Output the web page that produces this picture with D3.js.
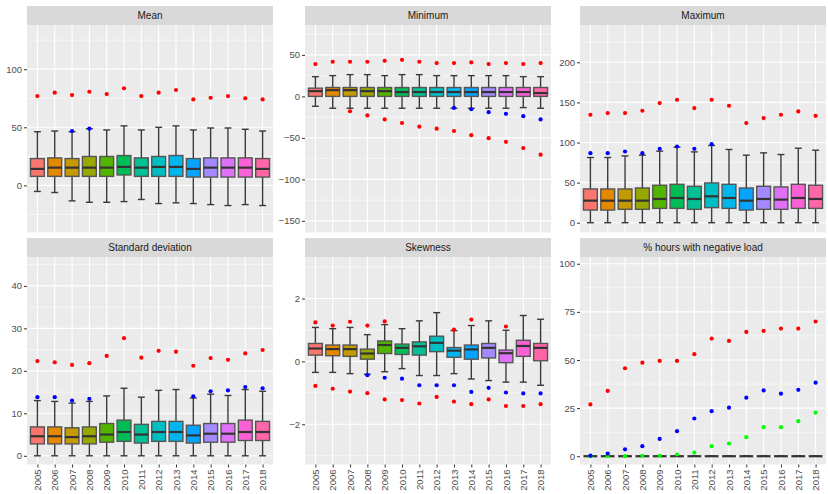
<!DOCTYPE html>
<html>
<head>
<meta charset="utf-8">
<script src="https://cdn.jsdelivr.net/npm/d3@7"></script>
<style>
  html, body { margin: 0; padding: 0; background: #ffffff; }
  svg { display: block; }
  text { font-family: "Liberation Sans", Arial, sans-serif; }
</style>
</head>
<body>
<svg id="chart" width="828" height="494"></svg>
<script>
// ---------------- DATA ----------------
const years = ["2005","2006","2007","2008","2009","2010","2011","2012","2013","2014","2015","2016","2017","2018"];
const boxColors = ["#F8766D","#E38900","#C49A00","#99A800","#53B400","#00BC56","#00C094","#00BFC4","#00B6EB","#06A4FF","#A58AFF","#DF70F8","#FB61D7","#FF66A8"];
const panelTitles = ["Mean","Minimum","Maximum","Standard deviation","Skewness","% hours with negative load"];

// Mean
const meanLo  = [-5.2,-6.1,-13.3,-14.5,-14.5,-13.9,-12.1,-15.6,-15.0,-15.6,-16.5,-17.3,-16.5,-17.3];
const meanQ1  = [7.8,7.8,7.8,7.8,7.8,9.0,7.8,7.8,7.8,7.2,7.2,7.2,7.2,7.2];
const meanMed = [14.2,15.3,15.3,15.3,15.3,15.9,15.3,15.9,15.9,14.2,15.3,15.3,15.3,14.2];
const meanQ3  = [23.1,23.7,23.1,24.9,24.9,25.7,23.7,24.9,25.7,23.1,23.7,23.7,23.7,23.1];
const meanHi  = [46.2,46.8,46.2,48.8,47.7,51.2,47.7,50.0,51.2,47.7,49.4,49.4,48.3,46.8];
const meanRed = [76.9,79.8,77.7,80.6,78.6,83.5,76.9,79.8,82.1,74.0,75.4,76.9,74.9,74.0];
const meanBlue = [null,null,46.8,48.8,null,null,null,null,null,null,null,null,null,null];

// Minimum
const minLo  = [-11.9,-14.3,-14.3,-14.3,-14.3,-14.3,-14.3,-14.3,-14.3,-14.3,-14.3,-14.3,-13.5,-14.3];
const minQ1  = [0,0,0,0,0,0,0,0,0,0,0,0,0,0];
const minMed = [6.3,7.5,7.5,6.3,6.3,5.2,5.2,5.2,5.2,5.2,5.2,5.2,5.2,4.0];
const minQ3  = [9.9,10.7,10.7,10.7,10.7,10.7,10.7,10.7,10.7,10.7,10.7,10.7,10.7,10.7];
const minHi  = [23.8,25.0,26.2,26.2,25.0,26.2,26.2,25.0,25.0,25.0,25.0,25.0,23.8,23.8];
const minRedHi = [38.9,41.7,41.7,41.7,42.9,44.0,41.7,40.1,40.1,40.9,38.9,40.1,38.9,40.1];
const minRedLo = [null,null,-17.9,-23.0,-27.8,-32.1,-36.5,-38.9,-41.7,-46.8,-50.4,-54.8,-62.3,-70.2];
const minBlue  = [null,null,null,null,null,null,null,null,-13.9,-15.5,-19.0,-21.0,-23.8,-27.8];

// Maximum
const maxLo  = [0,0,0,0,0,0,0,0,0,0,0,0,0,0];
const maxQ1  = [15.8,15.8,16.7,16.7,17.9,17.9,16.7,18.8,17.9,15.8,16.7,16.7,17.9,17.9];
const maxMed = [27.5,27.5,27.5,27.5,29.6,30.8,29.6,32.9,30.8,27.5,29.6,28.8,30.8,29.6];
const maxQ3  = [42.1,42.1,42.1,43.3,46.7,47.9,45.4,49.6,47.9,43.3,45.4,44.6,47.9,46.7];
const maxHi  = [81.3,81.3,83.3,84.2,89.2,94.2,88.3,96.3,91.3,84.2,87.1,85.0,92.9,90.4];
const maxRed = [134.6,136.7,136.7,139.6,149.2,153.3,142.9,153.3,145.8,124.2,130.4,134.6,138.8,133.3];
const maxBlue = [86.7,86.7,88.8,86.7,92.1,95.0,92.1,97.9,null,null,null,null,null,null];

// Standard deviation
const sdLo  = [0,0,0,0,0,0,0,0,0,0,0,0,0,0];
const sdQ1  = [2.8,2.8,2.8,2.8,3.2,3.4,3.0,3.4,3.4,3.0,3.2,3.2,3.6,3.6];
const sdMed = [4.6,4.6,4.4,4.6,5.0,5.6,5.0,5.6,5.6,4.8,5.2,5.2,5.6,5.6];
const sdQ3  = [6.8,6.8,6.6,6.8,7.6,8.4,7.4,8.1,8.1,7.2,7.6,7.6,8.4,8.1];
const sdHi  = [13.0,12.8,12.4,12.8,14.1,15.9,13.8,15.4,15.6,13.6,14.5,14.2,15.6,15.2];
const sdRed = [22.3,22.0,21.4,21.8,23.5,27.7,23.1,24.7,24.5,21.2,23.0,22.6,24.1,24.9];
const sdBlue = [13.8,13.8,13.0,13.4,null,null,null,null,null,14.0,15.2,15.4,16.2,15.9];

// Skewness
const skLo  = [-0.35,-0.35,-0.39,-0.41,-0.33,-0.23,-0.45,-0.45,-0.39,-0.56,-0.61,-0.66,-0.66,-0.76];
const skQ1  = [0.20,0.18,0.16,0.07,0.25,0.22,0.20,0.31,0.13,0.07,0.11,-0.04,0.16,0.02];
const skMed = [0.41,0.39,0.39,0.25,0.52,0.43,0.48,0.59,0.34,0.38,0.43,0.26,0.49,0.43];
const skQ3  = [0.57,0.52,0.52,0.39,0.65,0.55,0.62,0.80,0.44,0.52,0.57,0.36,0.67,0.57];
const skHi  = [1.08,1.04,1.08,0.85,1.17,1.04,1.29,1.55,0.98,1.14,1.29,0.99,1.46,1.34];
const skRedHi = [1.24,1.14,1.26,1.14,1.27,null,null,null,1.01,1.33,null,1.11,null,null];
const skRedLo = [-0.78,-0.87,-0.96,-1.01,-1.21,-1.23,-1.34,-1.13,-1.28,-1.36,-1.21,-1.42,-1.42,-1.36];
const skBlue  = [null,null,null,-0.44,-0.52,-0.55,-0.76,-0.76,-0.76,-0.97,-0.84,-0.99,-1.02,-1.02];

// % hours with negative load
const negBox   = [0,0,0,0,0,0,0,0,0,0,0,0,0,0];
const negRed   = [26.9,33.9,45.7,48.6,49.5,49.5,53.0,61.1,59.9,64.6,65.1,66.3,66.3,70.0];
const negBlue  = [0.3,1.4,3.6,5.2,9.0,13.0,19.6,23.4,25.2,30.4,34.2,32.5,34.5,38.2];
const negGreen = [0,0,0,0.2,0.2,0.9,1.9,5.2,6.6,9.9,15.1,15.1,18.2,22.6];

// Axis ticks
const ticksMean = [0,50,100];
const ticksMin  = [-150,-100,-50,0,50];
const ticksMax  = [0,50,100,150,200];
const ticksSd   = [0,10,20,30,40];
const ticksSk   = [-2,0,2];
const ticksNeg  = [0,25,50,75,100];

// ---------------- PANEL DEFINITIONS ----------------
const panels = [
  { title: panelTitles[0], domain: [-40.5, 138], ticks: ticksMean,
    box: [meanLo, meanQ1, meanMed, meanQ3, meanHi],
    points: [[meanBlue, "#0000FF"], [meanRed, "#FF0000"]] },
  { title: panelTitles[1], domain: [-164, 86], ticks: ticksMin,
    box: [minLo, minQ1, minMed, minQ3, minHi],
    points: [[minBlue, "#0000FF"], [minRedHi, "#FF0000"], [minRedLo, "#FF0000"]] },
  { title: panelTitles[2], domain: [-12.2, 246.5], ticks: ticksMax,
    box: [maxLo, maxQ1, maxMed, maxQ3, maxHi],
    points: [[maxBlue, "#0000FF"], [maxRed, "#FF0000"]] },
  { title: panelTitles[3], domain: [-2.05, 46.8], ticks: ticksSd,
    box: [sdLo, sdQ1, sdMed, sdQ3, sdHi],
    points: [[sdBlue, "#0000FF"], [sdRed, "#FF0000"]] },
  { title: panelTitles[4], domain: [-3.28, 3.32], ticks: ticksSk,
    box: [skLo, skQ1, skMed, skQ3, skHi],
    points: [[skBlue, "#0000FF"], [skRedHi, "#FF0000"], [skRedLo, "#FF0000"]] },
  { title: panelTitles[5], domain: [-4.3, 103.5], ticks: ticksNeg,
    box: [negBox, negBox, negBox, negBox, negBox],
    points: [[negGreen, "#00FF00"], [negBlue, "#0000FF"], [negRed, "#FF0000"]] }
];

// ---------------- LAYOUT ----------------
const colLeft = [27, 305, 580];
const panelW = 246;
const rowStripTop = [6, 238];
const stripH = 19;
const panelH = 207.5;

const svg = d3.select("#chart");

panels.forEach((p, i) => {
  const col = i % 3, row = Math.floor(i / 3);
  const x0 = colLeft[col], x1 = x0 + panelW;
  const sTop = rowStripTop[row];
  const y0 = sTop + stripH, y1 = y0 + panelH;

  const x = d3.scalePoint().domain(years).range([x0, x1]).padding(0.6);
  const y = d3.scaleLinear().domain(p.domain).range([y1, y0]);
  const step = x.step();
  const bw = step * 0.8;

  const g = svg.append("g");

  // strip
  g.append("rect").attr("x", x0).attr("y", sTop).attr("width", panelW).attr("height", stripH)
    .attr("fill", "#D9D9D9");
  g.append("text").attr("x", (x0 + x1) / 2).attr("y", sTop + stripH / 2 + 3.6)
    .attr("text-anchor", "middle").attr("font-size", "10px").attr("fill", "#1A1A1A")
    .text(p.title);

  // panel background
  g.append("rect").attr("x", x0).attr("y", y0).attr("width", panelW).attr("height", panelH)
    .attr("fill", "#EBEBEB");

  // minor gridlines
  const tstep = p.ticks[1] - p.ticks[0];
  const minor = [];
  for (let v = p.ticks[0] - tstep / 2; v <= p.domain[1]; v += tstep) {
    if (v >= p.domain[0]) minor.push(v);
  }
  g.selectAll(null).data(minor).enter().append("line")
    .attr("x1", x0).attr("x2", x1).attr("y1", d => y(d)).attr("y2", d => y(d))
    .attr("stroke", "#FFFFFF").attr("stroke-width", 0.55);
  // major gridlines
  g.selectAll(null).data(p.ticks).enter().append("line")
    .attr("x1", x0).attr("x2", x1).attr("y1", d => y(d)).attr("y2", d => y(d))
    .attr("stroke", "#FFFFFF").attr("stroke-width", 1.1);
  g.selectAll(null).data(years).enter().append("line")
    .attr("x1", d => x(d)).attr("x2", d => x(d)).attr("y1", y0).attr("y2", y1)
    .attr("stroke", "#FFFFFF").attr("stroke-width", 1.1);

  // y axis
  const yAxis = d3.axisLeft(y).tickValues(p.ticks).tickSize(3).tickPadding(2).tickFormat(d3.format("d"));
  const ya = g.append("g").attr("transform", `translate(${x0},0)`).call(yAxis);
  ya.select(".domain").remove();
  ya.selectAll(".tick line").attr("stroke", "#333333").attr("stroke-width", 1);
  ya.selectAll(".tick text").attr("fill", "#4D4D4D").attr("font-size", "9.5px")
    .style("font-family", '"Liberation Sans", Arial, sans-serif');

  // x axis (bottom row only)
  if (row === 1) {
    const xAxis = d3.axisBottom(x).tickSize(3).tickPadding(2);
    const xa = g.append("g").attr("transform", `translate(0,${y1})`).call(xAxis);
    xa.select(".domain").remove();
    xa.selectAll(".tick line").attr("stroke", "#333333").attr("stroke-width", 1);
    xa.selectAll(".tick text").attr("fill", "#4D4D4D").attr("font-size", "9.5px")
      .style("font-family", '"Liberation Sans", Arial, sans-serif')
      .attr("transform", "rotate(-90)")
      .attr("text-anchor", "end").attr("x", -5).attr("y", 0).attr("dy", "0.33em");
  }

  // boxplots
  const [lo, q1, med, q3, hi] = p.box;
  const bx = years.map((yr, k) => ({ yr, k, lo: lo[k], q1: q1[k], med: med[k], q3: q3[k], hi: hi[k], c: boxColors[k] }));
  const bg = g.append("g");
  // whisker vertical
  bg.selectAll(null).data(bx).enter().append("line")
    .attr("x1", d => x(d.yr)).attr("x2", d => x(d.yr))
    .attr("y1", d => y(d.lo)).attr("y2", d => y(d.hi))
    .attr("stroke", "#3a3a3a").attr("stroke-width", 1.4);
  // caps
  ["lo", "hi"].forEach(key => {
    bg.selectAll(null).data(bx).enter().append("line")
      .attr("x1", d => x(d.yr) - bw / 4).attr("x2", d => x(d.yr) + bw / 4)
      .attr("y1", d => y(d[key])).attr("y2", d => y(d[key]))
      .attr("stroke", "#3a3a3a").attr("stroke-width", 1.4);
  });
  // box
  bg.selectAll(null).data(bx).enter().append("rect")
    .attr("x", d => x(d.yr) - bw / 2).attr("width", bw)
    .attr("y", d => y(d.q3)).attr("height", d => Math.max(0, y(d.q1) - y(d.q3)))
    .attr("fill", d => d.c).attr("stroke", "#555555").attr("stroke-width", 1.4);
  // median
  bg.selectAll(null).data(bx).enter().append("line")
    .attr("x1", d => x(d.yr) - bw / 2).attr("x2", d => x(d.yr) + bw / 2)
    .attr("y1", d => y(d.med)).attr("y2", d => y(d.med))
    .attr("stroke", "#333333").attr("stroke-width", 2.2);

  // points
  p.points.forEach(([arr, color]) => {
    const pts = years.map((yr, k) => ({ yr, v: arr[k] })).filter(d => d.v !== null);
    g.selectAll(null).data(pts).enter().append("circle")
      .attr("cx", d => x(d.yr)).attr("cy", d => y(d.v)).attr("r", 2.1)
      .attr("fill", color);
  });
});
</script>
</body>
</html>
